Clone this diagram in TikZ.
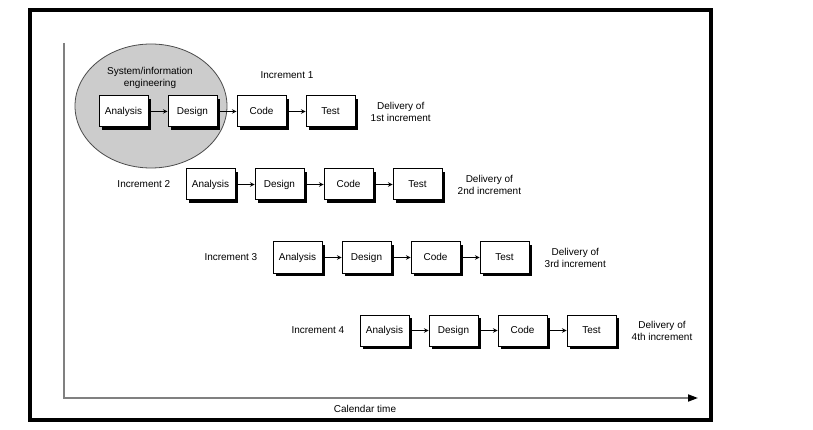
\documentclass[tikz,border=0pt]{standalone}
\usepackage{fontspec}
\setmainfont{Liberation Sans}
\usetikzlibrary{arrows,arrows.meta,positioning,shadows,shapes.geometric}

\begin{document}
\begin{tikzpicture}[x=1pt,y=-1pt,node distance=19pt,
        phase/.style={draw,fill=white,line width=1pt,minimum width=49pt,minimum height=31pt,inner sep=0pt,
            font=\fontsize{10}{12}\selectfont,text height=7.2pt,text depth=2pt,
            drop shadow={shadow xshift=3pt,shadow yshift=-3pt,fill=black,opacity=1}},
        lbl/.style={font=\fontsize{10}{12}\selectfont,align=center,inner sep=0pt},
        flow/.style={-stealth,line width=1pt},
        axis/.style={draw=gray,line width=1.8pt,-{Triangle[length=10pt,width=7pt,black]}}]
        \useasboundingbox (0,0) rectangle (813,430);
        \draw[line width=4pt] (30,10) rectangle (711,420);

        % time axes
        \coordinate (top) at (64,43);
        \coordinate (org) at (64,398);
        \coordinate (end) at (698,398);
        \draw[axis] (top) -- (org) -- (end);
        \node[lbl] (cal) at (365,409) {Calendar time};

        % system/information engineering
        \node[ellipse,draw=black!70,fill=black!20,line width=0.8pt,minimum width=152pt,minimum height=124pt] (sys) at (151,106) {};
        \node[lbl] (sysl) at (150,78) {System/information\\engineering};

        \foreach \r/\ord in {1/1st,2/2nd,3/3rd,4/4th} {
            \node[phase] (an\r) at ({123.5+87*(\r-1)},{111.5+73*(\r-1)}) {Analysis};
            \node[phase, right=of an\r] (de\r) {Design};
            \node[phase, right=of de\r] (co\r) {Code};
            \node[phase, right=of co\r] (te\r) {Test};
            \draw[flow] (an\r) -- (de\r);
            \draw[flow] (de\r) -- (co\r);
            \draw[flow] (co\r) -- (te\r);
            \node[lbl, right=15pt of te\r] (dl\r) {Delivery of\\\ord\ increment};
        }

        \node[lbl] (in1) at (287,75) {Increment 1};
        \node[lbl, left=15pt of an2] (in2) {Increment 2};
        \node[lbl, left=15pt of an3] (in3) {Increment 3};
        \node[lbl, left=15pt of an4] (in4) {Increment 4};
    \end{tikzpicture}
\end{document}
